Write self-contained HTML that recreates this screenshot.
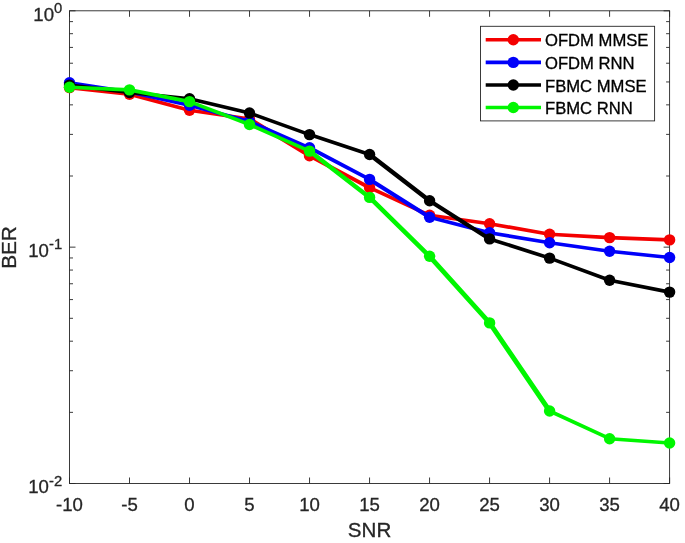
<!DOCTYPE html>
<html><head><meta charset="utf-8"><title>BER vs SNR</title>
<style>html,body{margin:0;padding:0;background:#fff}body{width:685px;height:543px;overflow:hidden}</style></head>
<body>
<svg width="685" height="543" viewBox="0 0 685 543" style="display:block">
<rect width="685" height="543" fill="#fff"/>
<g stroke="#262626" stroke-width="0.9" fill="none" shape-rendering="auto">
<rect x="69.5" y="10.8" width="600.1" height="472.7"/>
<path d="M69.50 483.5v-6M69.50 10.8v6"/>
<path d="M129.51 483.5v-6M129.51 10.8v6"/>
<path d="M189.52 483.5v-6M189.52 10.8v6"/>
<path d="M249.53 483.5v-6M249.53 10.8v6"/>
<path d="M309.54 483.5v-6M309.54 10.8v6"/>
<path d="M369.55 483.5v-6M369.55 10.8v6"/>
<path d="M429.56 483.5v-6M429.56 10.8v6"/>
<path d="M489.57 483.5v-6M489.57 10.8v6"/>
<path d="M549.58 483.5v-6M549.58 10.8v6"/>
<path d="M609.59 483.5v-6M609.59 10.8v6"/>
<path d="M669.60 483.5v-6M669.60 10.8v6"/>
<path d="M69.5 10.80h6M669.6 10.80h-6"/>
<path d="M69.5 176.00h3.5M669.6 176.00h-3.5"/>
<path d="M69.5 134.38h3.5M669.6 134.38h-3.5"/>
<path d="M69.5 104.85h3.5M669.6 104.85h-3.5"/>
<path d="M69.5 81.95h3.5M669.6 81.95h-3.5"/>
<path d="M69.5 63.23h3.5M669.6 63.23h-3.5"/>
<path d="M69.5 47.41h3.5M669.6 47.41h-3.5"/>
<path d="M69.5 33.70h3.5M669.6 33.70h-3.5"/>
<path d="M69.5 21.61h3.5M669.6 21.61h-3.5"/>
<path d="M69.5 247.15h6M669.6 247.15h-6"/>
<path d="M69.5 412.35h3.5M669.6 412.35h-3.5"/>
<path d="M69.5 370.73h3.5M669.6 370.73h-3.5"/>
<path d="M69.5 341.20h3.5M669.6 341.20h-3.5"/>
<path d="M69.5 318.30h3.5M669.6 318.30h-3.5"/>
<path d="M69.5 299.58h3.5M669.6 299.58h-3.5"/>
<path d="M69.5 283.76h3.5M669.6 283.76h-3.5"/>
<path d="M69.5 270.05h3.5M669.6 270.05h-3.5"/>
<path d="M69.5 257.96h3.5M669.6 257.96h-3.5"/>
<path d="M69.5 483.50h6M669.6 483.50h-6"/>
</g>
<path d="M69.5 87.6L129.5 94.3" stroke="#f40000" stroke-width="3.65" stroke-linecap="round"/>
<path d="M129.5 94.3L189.5 110.3" stroke="#f40000" stroke-width="3.65" stroke-linecap="round"/>
<path d="M189.5 110.3L249.5 119.0" stroke="#f40000" stroke-width="3.65" stroke-linecap="round"/>
<path d="M249.5 119.0L309.5 155.7" stroke="#f40000" stroke-width="4.08" stroke-linecap="round"/>
<path d="M309.5 155.7L369.6 187.7" stroke="#f40000" stroke-width="3.85" stroke-linecap="round"/>
<path d="M369.6 187.7L429.6 215.3" stroke="#f40000" stroke-width="3.65" stroke-linecap="round"/>
<path d="M429.6 215.3L489.6 223.7" stroke="#f40000" stroke-width="3.65" stroke-linecap="round"/>
<path d="M489.6 223.7L549.6 234.3" stroke="#f40000" stroke-width="3.65" stroke-linecap="round"/>
<path d="M549.6 234.3L609.6 237.6" stroke="#f40000" stroke-width="3.65" stroke-linecap="round"/>
<path d="M609.6 237.6L669.6 239.9" stroke="#f40000" stroke-width="3.65" stroke-linecap="round"/>
<circle cx="69.5" cy="87.6" r="5.7" fill="#f40000"/>
<circle cx="129.5" cy="94.3" r="5.7" fill="#f40000"/>
<circle cx="189.5" cy="110.3" r="5.7" fill="#f40000"/>
<circle cx="249.5" cy="119.0" r="5.7" fill="#f40000"/>
<circle cx="309.5" cy="155.7" r="5.7" fill="#f40000"/>
<circle cx="369.6" cy="187.7" r="5.7" fill="#f40000"/>
<circle cx="429.6" cy="215.3" r="5.7" fill="#f40000"/>
<circle cx="489.6" cy="223.7" r="5.7" fill="#f40000"/>
<circle cx="549.6" cy="234.3" r="5.7" fill="#f40000"/>
<circle cx="609.6" cy="237.6" r="5.7" fill="#f40000"/>
<circle cx="669.6" cy="239.9" r="5.7" fill="#f40000"/>
<path d="M69.5 82.8L129.5 92.0" stroke="#0000fa" stroke-width="3.65" stroke-linecap="round"/>
<path d="M129.5 92.0L189.5 105.3" stroke="#0000fa" stroke-width="3.65" stroke-linecap="round"/>
<path d="M189.5 105.3L249.5 121.5" stroke="#0000fa" stroke-width="3.65" stroke-linecap="round"/>
<path d="M249.5 121.5L309.5 147.8" stroke="#0000fa" stroke-width="3.65" stroke-linecap="round"/>
<path d="M309.5 147.8L369.6 179.4" stroke="#0000fa" stroke-width="3.83" stroke-linecap="round"/>
<path d="M369.6 179.4L429.6 217.3" stroke="#0000fa" stroke-width="4.13" stroke-linecap="round"/>
<path d="M429.6 217.3L489.6 232.7" stroke="#0000fa" stroke-width="3.65" stroke-linecap="round"/>
<path d="M489.6 232.7L549.6 242.8" stroke="#0000fa" stroke-width="3.65" stroke-linecap="round"/>
<path d="M549.6 242.8L609.6 251.2" stroke="#0000fa" stroke-width="3.65" stroke-linecap="round"/>
<path d="M609.6 251.2L669.6 257.5" stroke="#0000fa" stroke-width="3.65" stroke-linecap="round"/>
<circle cx="69.5" cy="82.8" r="5.7" fill="#0000fa"/>
<circle cx="129.5" cy="92.0" r="5.7" fill="#0000fa"/>
<circle cx="189.5" cy="105.3" r="5.7" fill="#0000fa"/>
<circle cx="249.5" cy="121.5" r="5.7" fill="#0000fa"/>
<circle cx="309.5" cy="147.8" r="5.7" fill="#0000fa"/>
<circle cx="369.6" cy="179.4" r="5.7" fill="#0000fa"/>
<circle cx="429.6" cy="217.3" r="5.7" fill="#0000fa"/>
<circle cx="489.6" cy="232.7" r="5.7" fill="#0000fa"/>
<circle cx="549.6" cy="242.8" r="5.7" fill="#0000fa"/>
<circle cx="609.6" cy="251.2" r="5.7" fill="#0000fa"/>
<circle cx="669.6" cy="257.5" r="5.7" fill="#0000fa"/>
<path d="M69.5 85.1L129.5 92.5" stroke="#000000" stroke-width="3.65" stroke-linecap="round"/>
<path d="M129.5 92.5L189.5 98.8" stroke="#000000" stroke-width="3.65" stroke-linecap="round"/>
<path d="M189.5 98.8L249.5 113.0" stroke="#000000" stroke-width="3.65" stroke-linecap="round"/>
<path d="M249.5 113.0L309.5 134.6" stroke="#000000" stroke-width="3.65" stroke-linecap="round"/>
<path d="M309.5 134.6L369.6 154.5" stroke="#000000" stroke-width="3.65" stroke-linecap="round"/>
<path d="M369.6 154.5L429.6 200.8" stroke="#000000" stroke-width="4.47" stroke-linecap="round"/>
<path d="M429.6 200.8L489.6 238.9" stroke="#000000" stroke-width="4.14" stroke-linecap="round"/>
<path d="M489.6 238.9L549.6 258.1" stroke="#000000" stroke-width="3.65" stroke-linecap="round"/>
<path d="M549.6 258.1L609.6 280.2" stroke="#000000" stroke-width="3.65" stroke-linecap="round"/>
<path d="M609.6 280.2L669.6 292.1" stroke="#000000" stroke-width="3.65" stroke-linecap="round"/>
<circle cx="69.5" cy="85.1" r="5.7" fill="#000000"/>
<circle cx="129.5" cy="92.5" r="5.7" fill="#000000"/>
<circle cx="189.5" cy="98.8" r="5.7" fill="#000000"/>
<circle cx="249.5" cy="113.0" r="5.7" fill="#000000"/>
<circle cx="309.5" cy="134.6" r="5.7" fill="#000000"/>
<circle cx="369.6" cy="154.5" r="5.7" fill="#000000"/>
<circle cx="429.6" cy="200.8" r="5.7" fill="#000000"/>
<circle cx="489.6" cy="238.9" r="5.7" fill="#000000"/>
<circle cx="549.6" cy="258.1" r="5.7" fill="#000000"/>
<circle cx="609.6" cy="280.2" r="5.7" fill="#000000"/>
<circle cx="669.6" cy="292.1" r="5.7" fill="#000000"/>
<path d="M69.5 87.3L129.5 89.9" stroke="#00f600" stroke-width="3.65" stroke-linecap="round"/>
<path d="M129.5 89.9L189.5 101.6" stroke="#00f600" stroke-width="3.65" stroke-linecap="round"/>
<path d="M189.5 101.6L249.5 124.5" stroke="#00f600" stroke-width="3.65" stroke-linecap="round"/>
<path d="M249.5 124.5L309.5 151.1" stroke="#00f600" stroke-width="3.65" stroke-linecap="round"/>
<path d="M309.5 151.1L369.6 197.4" stroke="#00f600" stroke-width="4.47" stroke-linecap="round"/>
<path d="M369.6 197.4L429.6 256.3" stroke="#00f600" stroke-width="4.63" stroke-linecap="round"/>
<path d="M429.6 256.3L489.6 322.9" stroke="#00f600" stroke-width="4.71" stroke-linecap="round"/>
<path d="M489.6 322.9L549.6 411.0" stroke="#00f600" stroke-width="4.89" stroke-linecap="round"/>
<path d="M549.6 411.0L609.6 438.7" stroke="#00f600" stroke-width="3.65" stroke-linecap="round"/>
<path d="M609.6 438.7L669.6 443.0" stroke="#00f600" stroke-width="3.65" stroke-linecap="round"/>
<circle cx="69.5" cy="87.3" r="5.7" fill="#00f600"/>
<circle cx="129.5" cy="89.9" r="5.7" fill="#00f600"/>
<circle cx="189.5" cy="101.6" r="5.7" fill="#00f600"/>
<circle cx="249.5" cy="124.5" r="5.7" fill="#00f600"/>
<circle cx="309.5" cy="151.1" r="5.7" fill="#00f600"/>
<circle cx="369.6" cy="197.4" r="5.7" fill="#00f600"/>
<circle cx="429.6" cy="256.3" r="5.7" fill="#00f600"/>
<circle cx="489.6" cy="322.9" r="5.7" fill="#00f600"/>
<circle cx="549.6" cy="411.0" r="5.7" fill="#00f600"/>
<circle cx="609.6" cy="438.7" r="5.7" fill="#00f600"/>
<circle cx="669.6" cy="443.0" r="5.7" fill="#00f600"/>
<g font-family="'Liberation Sans', Arial, sans-serif" fill="#262626" stroke="#262626" stroke-width="0.3" font-size="18.6">
<text x="69.5" y="511.0" text-anchor="middle">-10</text>
<text x="129.5" y="511.0" text-anchor="middle">-5</text>
<text x="189.5" y="511.0" text-anchor="middle">0</text>
<text x="249.5" y="511.0" text-anchor="middle">5</text>
<text x="309.5" y="511.0" text-anchor="middle">10</text>
<text x="369.6" y="511.0" text-anchor="middle">15</text>
<text x="429.6" y="511.0" text-anchor="middle">20</text>
<text x="489.6" y="511.0" text-anchor="middle">25</text>
<text x="549.6" y="511.0" text-anchor="middle">30</text>
<text x="609.6" y="511.0" text-anchor="middle">35</text>
<text x="669.6" y="511.0" text-anchor="middle">40</text>
<text x="54.0" y="20.7" text-anchor="end">10</text>
<text x="54.1" y="12.8" font-size="14.8">0</text>
<text x="48.9" y="257.1" text-anchor="end">10</text>
<text x="49.0" y="249.2" font-size="14.8">-1</text>
<text x="48.9" y="493.4" text-anchor="end">10</text>
<text x="49.0" y="485.5" font-size="14.8">-2</text>
<text transform="translate(369.6 537.0) scale(1.04 1)" text-anchor="middle" font-size="19.8">SNR</text>
<text transform="translate(15.5 247.5) rotate(-90) scale(1.05 1)" text-anchor="middle" font-size="19.8">BER</text>
</g>
<rect x="480.5" y="26.3" width="174.10000000000002" height="94.60000000000001" fill="#fff" stroke="#262626" stroke-width="0.9"/>
<path d="M485.7 39.8H541" stroke="#f40000" stroke-width="3.6"/>
<circle cx="513.3" cy="39.8" r="5.7" fill="#f40000"/>
<text transform="translate(545.0 46.4) scale(1.027 1)" font-family="'Liberation Sans', Arial, sans-serif" font-size="16.2" fill="#000" stroke="#000" stroke-width="0.3">OFDM MMSE</text>
<path d="M485.7 62.4H541" stroke="#0000fa" stroke-width="3.6"/>
<circle cx="513.3" cy="62.4" r="5.7" fill="#0000fa"/>
<text transform="translate(545.0 69.0) scale(1.027 1)" font-family="'Liberation Sans', Arial, sans-serif" font-size="16.2" fill="#000" stroke="#000" stroke-width="0.3">OFDM RNN</text>
<path d="M485.7 84.95H541" stroke="#000000" stroke-width="3.6"/>
<circle cx="513.3" cy="84.95" r="5.7" fill="#000000"/>
<text transform="translate(545.0 91.5) scale(1.027 1)" font-family="'Liberation Sans', Arial, sans-serif" font-size="16.2" fill="#000" stroke="#000" stroke-width="0.3">FBMC MMSE</text>
<path d="M485.7 107.5H541" stroke="#00f600" stroke-width="3.6"/>
<circle cx="513.3" cy="107.5" r="5.7" fill="#00f600"/>
<text transform="translate(545.0 114.1) scale(1.027 1)" font-family="'Liberation Sans', Arial, sans-serif" font-size="16.2" fill="#000" stroke="#000" stroke-width="0.3">FBMC RNN</text>
</svg>
</body></html>
